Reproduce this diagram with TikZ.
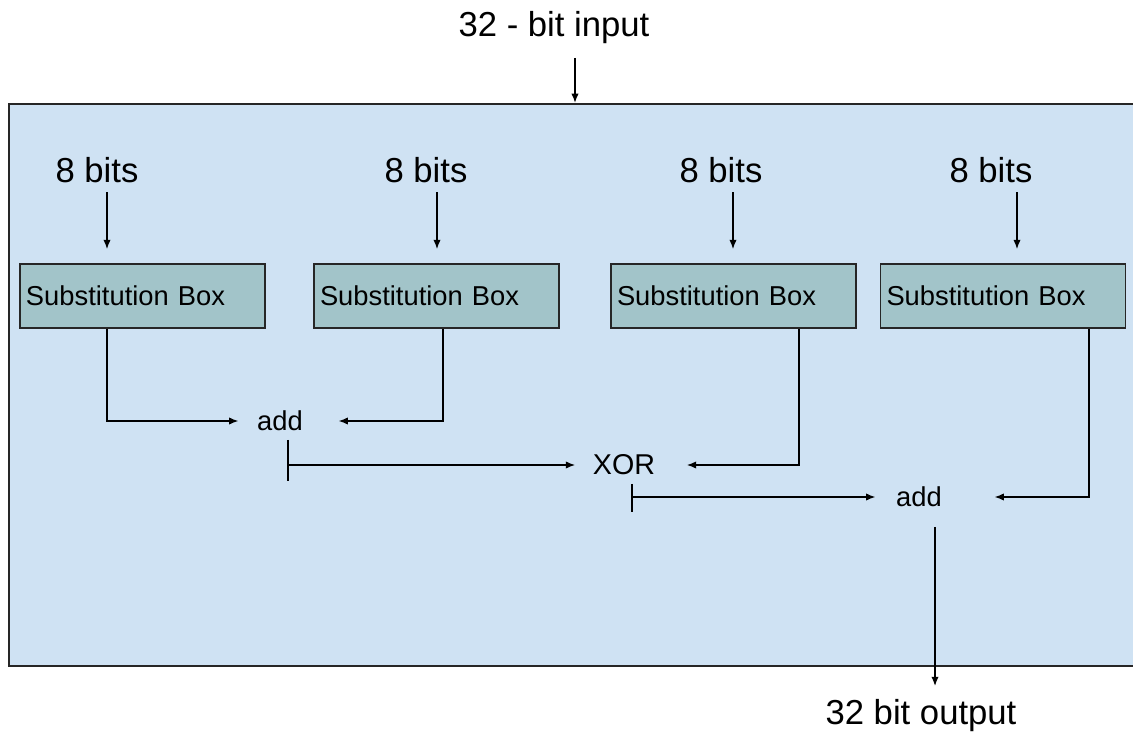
\documentclass[tikz,border=0pt]{standalone}
\usepackage{fontspec}
\setmainfont{Liberation Sans}
\usepackage{tikz}
\usetikzlibrary{arrows,arrows.meta,positioning}
\definecolor{boxblue}{HTML}{CFE2F3}
\definecolor{sboxfill}{HTML}{A2C4C9}

\begin{document}
\begin{tikzpicture}[x=.75pt, y=-.75pt, line width=1.1pt]
\useasboundingbox (0,0) rectangle (1133,735);
\clip (0,0) rectangle (1133,735);
\tikzstyle{big}=[font=\fontsize{26}{30}\selectfont] %%
\tikzstyle{op}=[font=\fontsize{20.5}{24}\selectfont] %%
\tikzstyle{arr}=[-{Latex[length=7pt,width=5.5pt]}] %%
\node[draw=black!85, line width=1.5pt, fill=boxblue, minimum width=856.5pt, minimum height=421.5pt, inner sep=0pt] (blk) at (580,385) {}; %%
\begin{scope}[draw=black!85, fill=sboxfill, line width=1.2pt]
\tikzstyle{every node}=[draw, fill=sboxfill, minimum height=48pt, text width=174.75pt, inner xsep=4.5pt, inner ysep=0pt, align=left, font=\fontsize{20.5}{24}\selectfont] %%
\node (sb1) at (142.5,296) {Substitution Box}; %%
\node (sb2) at (436.5,296) {Substitution Box}; %%
\node (sb3) at (733.5,296) {Substitution Box}; %%
\node (sb4) at (1003,296)  {Substitution Box};
\end{scope}
\begin{scope}
\tikzstyle{every node}=[inner sep=0pt] %%
\node[big] (inp) at (554,28)  {32 - bit input}; %%
\node[big] (b1) at (97,170)   {8 bits}; %%
\node[big] (b2) at (426,170)  {8 bits}; %%
\node[big] (b3) at (721,170)  {8 bits}; %%
\node[big] (b4) at (991,170)  {8 bits}; %%
\node[op] (add1) at (280,421) {add}; %%
\node[font=\fontsize{21.5}{25}\selectfont] (xor) at (624,465) {XOR}; %%
\node[op] (add2) at (919,497) {add}; %%
\node[big] (outp) at (921,716) {32 bit output};
\end{scope}
%\draw[step=10,color=gray] (0,0) grid (1133,735);%%
\draw[arr, shorten <=9.75pt] ([xshift=-3.75pt]inp.south -| blk.north) -- ([xshift=-3.75pt]blk.north); %%
\foreach \n/\dx in {1/7.5,2/8.25,3/9,4/19.5}
  \draw[arr, shorten <=6.75pt, shorten >=10.5pt] ([xshift=\dx pt]b\n.south) -- ([xshift=\dx pt]b\n.south |- sb\n.north); %%
\draw[arr, shorten >=13.5pt] ([xshift=-26.6pt]sb1.south) |- (add1.west); %%
\draw[arr, shorten >=26.25pt] ([xshift=4.9pt]sb2.south) |- (add1.east); %%
\draw ([xshift=6pt,yshift=-6pt]add1.south) -- ([xshift=6pt,yshift=-12pt]add1.south |- xor.west); %%
\draw[arr, shorten >=12.75pt] ([xshift=6pt]add1.south |- xor.west) -- (xor.west); %%
\draw[arr, shorten >=23.25pt] ([xshift=49.1pt]sb3.south) |- (xor.east); %%
\draw ([xshift=6pt,yshift=-6pt]xor.south) -- ([xshift=6pt,yshift=-11pt]xor.south |- add2.west); %%
\draw[arr, shorten >=15pt] ([xshift=6pt]xor.south |- add2.west) -- (add2.west); %%
\draw[arr, shorten >=39pt] ([xshift=64.5pt]sb4.south) |- (add2.east); %%
\draw[arr, shorten <=14.25pt, shorten >=9.75pt] ([xshift=12pt]add2.south) -- ([xshift=12pt]add2.south |- outp.north); %%
\end{tikzpicture}
\end{document}
